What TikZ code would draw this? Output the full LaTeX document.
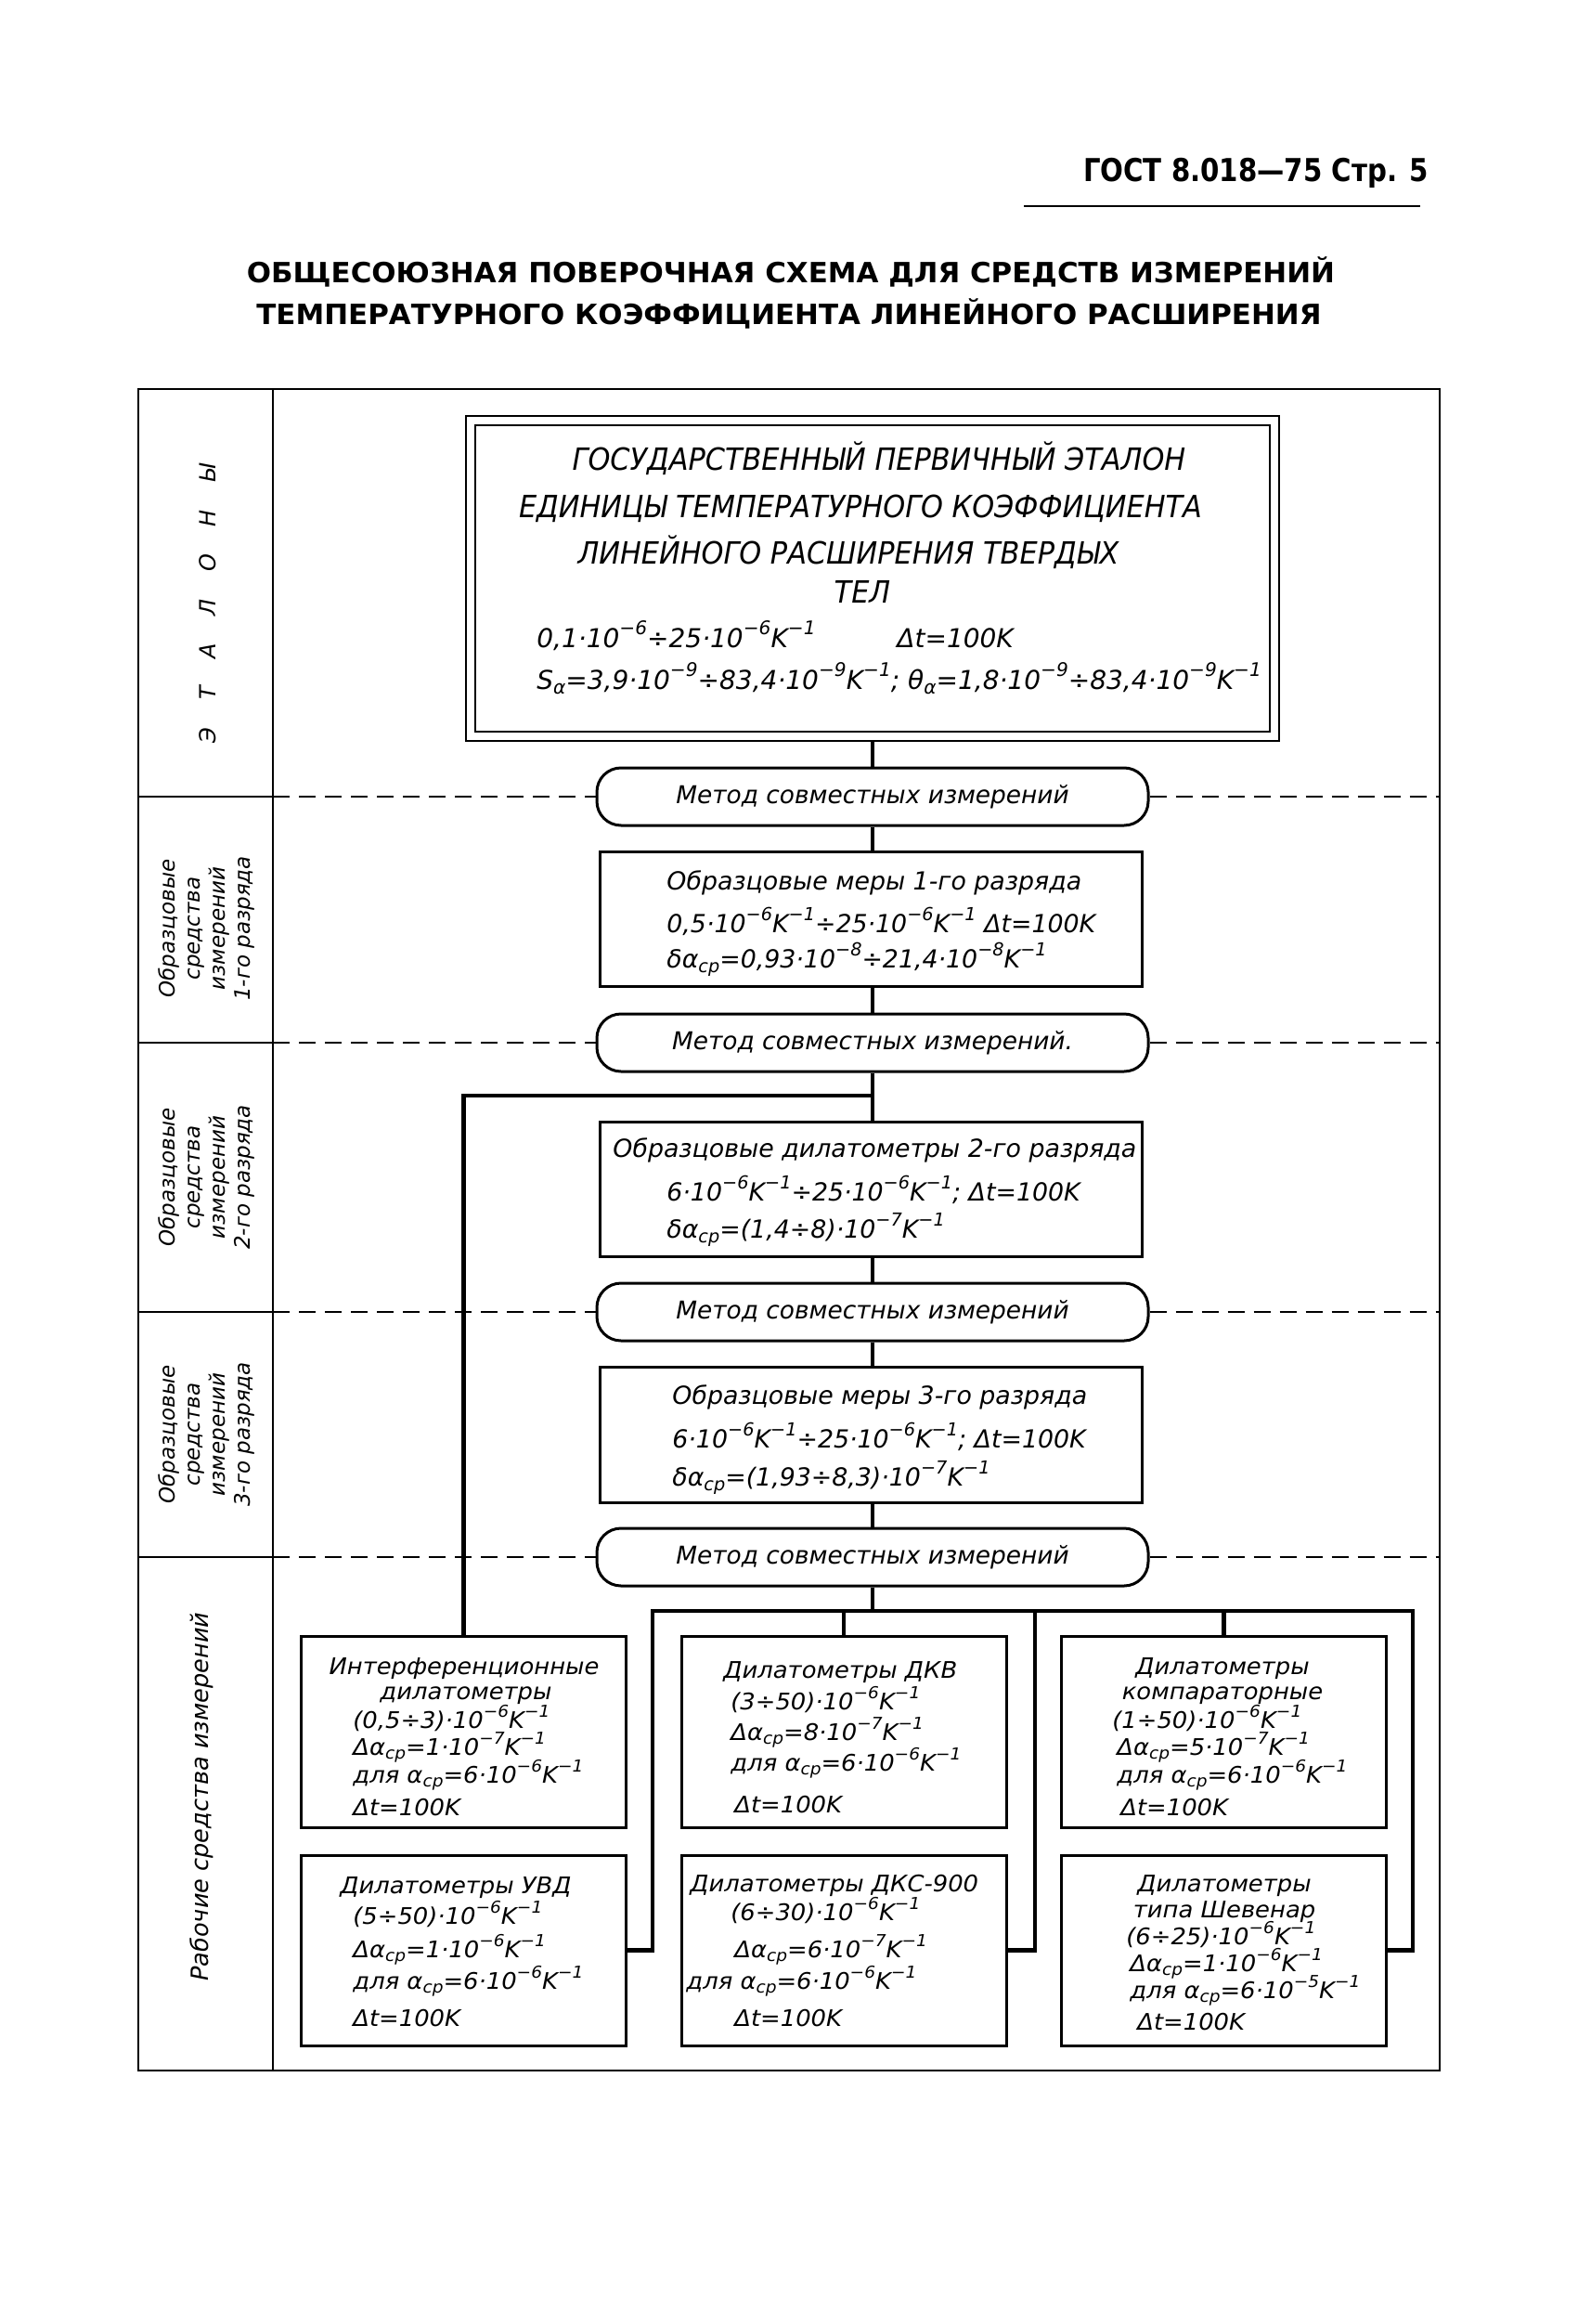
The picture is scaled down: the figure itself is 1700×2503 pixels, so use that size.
\documentclass[tikz,border=0pt]{standalone}
\usepackage{fontspec}
\usepackage{graphicx}
\newfontfamily\gost{DejaVu Sans}
\newfontfamily\gostw[FakeStretch=1.05]{DejaVu Sans}
\newfontfamily\gostcaps[FakeStretch=0.92]{DejaVu Sans}
\newfontfamily\hdrfont[FakeStretch=0.86]{DejaVu Sans}
\newfontfamily\ttlfont[FakeStretch=1.03]{DejaVu Sans}
\newcommand\sps[1]{\raisebox{0.47em}{\scalebox{0.72}{#1}}}
\newcommand\sbs[1]{\raisebox{-0.2em}{\scalebox{0.72}{#1}}}
\newcommand\mn{−}
\begin{document}
\begin{tikzpicture}[x=0.5pt,y=-0.5pt,
  conn/.style={line width=2.1pt},
  framel/.style={line width=1.4pt},
  dashln/.style={line width=0.9pt, dash pattern=on 9pt off 5pt},
  boxS/.style={draw, line width=1.5pt, inner sep=0pt},
  meth/.style={draw, line width=1.5pt, rounded corners=13pt, minimum width=297pt, minimum height=31pt, inner sep=0pt, font={\gost\itshape\fontsize{13.2pt}{15pt}\selectfont}},
  txt/.style={inner sep=0pt, font={\gost\itshape\fontsize{13.4pt}{15pt}\selectfont}},
  stxt/.style={inner sep=0pt, font={\gostw\itshape\fontsize{12.3pt}{14pt}\selectfont}},
  capt/.style={inner sep=0pt, font={\gostcaps\itshape\fontsize{16.5pt}{19pt}\selectfont}},
  numt/.style={inner sep=0pt, font={\gost\itshape\fontsize{14pt}{17pt}\selectfont}},
  lbl/.style={inner sep=0pt, rotate=90, align=center, font={\gost\itshape\fontsize{11.5pt}{13.5pt}\selectfont}},
  bbox/.style={boxS, minimum width=175pt}
]
\fill[white] (0,0) rectangle (1700,2503);
\useasboundingbox (0,0) rectangle (1700,2503);

% header
\node[inner sep=0pt, font={\hdrfont\bfseries\fontsize{17pt}{20pt}\selectfont}] (hdr) at (1353,186) {ГОСТ 8.018—75 Стр. 5};
\coordinate (ul1) at (1103,222);
\coordinate (ul2) at (1530,222);
\draw[line width=1.4pt] (ul1) -- (ul2);

% title
\node[inner sep=0pt, font={\ttlfont\bfseries\fontsize{15pt}{18pt}\selectfont}] (t1) at (852,293) {ОБЩЕСОЮЗНАЯ ПОВЕРОЧНАЯ СХЕМА ДЛЯ СРЕДСТВ ИЗМЕРЕНИЙ};
\node[inner sep=0pt, font={\ttlfont\bfseries\fontsize{15pt}{18pt}\selectfont}] (t2) at (850,338) {ТЕМПЕРАТУРНОГО КОЭФФИЦИЕНТА ЛИНЕЙНОГО РАСШИРЕНИЯ};

% frame
\coordinate (fTL) at (149,419);
\coordinate (fBR) at (1551,2230);
\coordinate (dvT) at (294,419);
\coordinate (dvB) at (294,2230);
\draw[framel] (fTL) rectangle (fBR);
\draw[framel] (dvT) -- (dvB);

% primary standard
\node[draw, double, double distance=3.75pt, line width=1.25pt, minimum width=433pt, minimum height=170pt, inner sep=0pt, outer sep=3pt] (etalon) at (940,623) {};
\node[capt, anchor=base] (e1) at (947,507) {ГОСУДАРСТВЕННЫЙ ПЕРВИЧНЫЙ ЭТАЛОН};
\node[capt, anchor=base] (e2) at (927,557) {ЕДИНИЦЫ ТЕМПЕРАТУРНОГО КОЭФФИЦИЕНТА};
\node[capt, anchor=base] (e3) at (914,607) {ЛИНЕЙНОГО РАСШИРЕНИЯ ТВЕРДЫХ};
\node[capt, anchor=base] (e4) at (929,649) {ТЕЛ};
\node[numt, anchor=base west] (e5) at (578,697) {0,1·10\sps{\mn6}÷25·10\sps{\mn6}K\sps{\mn1}};
\node[numt, anchor=base west] (e5b) at (966,697) {Δt=100K};
\node[numt, anchor=base west] (e6) at (578,742) {S\sbs{α}=3,9·10\sps{\mn9}÷83,4·10\sps{\mn9}K\sps{\mn1}; θ\sbs{α}=1,8·10\sps{\mn9}÷83,4·10\sps{\mn9}K\sps{\mn1}};

% chain
\node[meth] (m1) at (940,858) {Метод совместных измерений};
\node[boxS, minimum width=292pt, minimum height=72.5pt] (b1) at (938,989.5) {};
\node[meth] (m2) at (940,1123) {Метод совместных измерений.};
\node[boxS, minimum width=292pt, minimum height=72.5pt] (b2) at (938,1280.5) {};
\node[meth] (m3) at (940,1413) {Метод совместных измерений};
\node[boxS, minimum width=292pt, minimum height=73pt] (b3) at (938,1545) {};
\node[meth] (m4) at (940,1677) {Метод совместных измерений};

\node[txt, anchor=base west] (b1a) at (718,958) {Образцовые меры 1-го разряда};
\node[txt, anchor=base west] (b1b) at (718,1004) {0,5·10\sps{\mn6}K\sps{\mn1}÷25·10\sps{\mn6}K\sps{\mn1} Δt=100K};
\node[txt, anchor=base west] (b1c) at (718,1042) {δα\sbs{ср}=0,93·10\sps{\mn8}÷21,4·10\sps{\mn8}K\sps{\mn1}};

\node[txt, anchor=base west] (b2a) at (660,1246) {Образцовые дилатометры 2-го разряда};
\node[txt, anchor=base west] (b2b) at (718,1293) {6·10\sps{\mn6}K\sps{\mn1}÷25·10\sps{\mn6}K\sps{\mn1}; Δt=100K};
\node[txt, anchor=base west] (b2c) at (718,1333) {δα\sbs{ср}=(1,4÷8)·10\sps{\mn7}K\sps{\mn1}};

\node[txt, anchor=base west] (b3a) at (724,1512) {Образцовые меры 3-го разряда};
\node[txt, anchor=base west] (b3b) at (724,1559) {6·10\sps{\mn6}K\sps{\mn1}÷25·10\sps{\mn6}K\sps{\mn1}; Δt=100K};
\node[txt, anchor=base west] (b3c) at (724,1600) {δα\sbs{ср}=(1,93÷8,3)·10\sps{\mn7}K\sps{\mn1}};

% working instruments
\node[bbox, minimum height=103pt] (interf) at (499.5,1865) {};
\node[bbox, minimum height=103pt] (dkv) at (909,1865) {};
\node[bbox, minimum height=103pt] (komp) at (1318.5,1865) {};
\node[bbox, minimum height=102.5pt] (uvd) at (499.5,2100.5) {};
\node[bbox, minimum height=102.5pt] (dks) at (909,2100.5) {};
\node[bbox, minimum height=102.5pt] (shev) at (1318.5,2100.5) {};

\node[stxt, anchor=base] (i1) at (500,1803) {Интерференционные};
\node[stxt, anchor=base] (i2) at (502,1830) {дилатометры};
\node[stxt, anchor=base west] (i3) at (380,1861) {(0,5÷3)·10\sps{\mn6}K\sps{\mn1}};
\node[stxt, anchor=base west] (i4) at (380,1890) {Δα\sbs{ср}=1·10\sps{\mn7}K\sps{\mn1}};
\node[stxt, anchor=base west] (i5) at (380,1920) {для α\sbs{ср}=6·10\sps{\mn6}K\sps{\mn1}};
\node[stxt, anchor=base west] (i6) at (380,1955) {Δt=100K};

\node[stxt, anchor=base west] (k1) at (779,1807) {Дилатометры ДКВ};
\node[stxt, anchor=base west] (k2) at (787,1841) {(3÷50)·10\sps{\mn6}K\sps{\mn1}};
\node[stxt, anchor=base west] (k3) at (787,1874) {Δα\sbs{ср}=8·10\sps{\mn7}K\sps{\mn1}};
\node[stxt, anchor=base west] (k4) at (787,1907) {для α\sbs{ср}=6·10\sps{\mn6}K\sps{\mn1}};
\node[stxt, anchor=base west] (k5) at (791,1952) {Δt=100K};

\node[stxt, anchor=base] (c1) at (1317,1803) {Дилатометры};
\node[stxt, anchor=base] (c2) at (1317,1830) {компараторные};
\node[stxt, anchor=base west] (c3) at (1198,1861) {(1÷50)·10\sps{\mn6}K\sps{\mn1}};
\node[stxt, anchor=base west] (c4) at (1203,1890) {Δα\sbs{ср}=5·10\sps{\mn7}K\sps{\mn1}};
\node[stxt, anchor=base west] (c5) at (1203,1920) {для α\sbs{ср}=6·10\sps{\mn6}K\sps{\mn1}};
\node[stxt, anchor=base west] (c6) at (1207,1955) {Δt=100K};

\node[stxt, anchor=base west] (u1) at (366,2039) {Дилатометры УВД};
\node[stxt, anchor=base west] (u2) at (380,2072) {(5÷50)·10\sps{\mn6}K\sps{\mn1}};
\node[stxt, anchor=base west] (u3) at (380,2108) {Δα\sbs{ср}=1·10\sps{\mn6}K\sps{\mn1}};
\node[stxt, anchor=base west] (u4) at (380,2142) {для α\sbs{ср}=6·10\sps{\mn6}K\sps{\mn1}};
\node[stxt, anchor=base west] (u5) at (380,2182) {Δt=100K};

\node[stxt, anchor=base west] (d1) at (743,2037) {Дилатометры ДКС-900};
\node[stxt, anchor=base west] (d2) at (787,2068) {(6÷30)·10\sps{\mn6}K\sps{\mn1}};
\node[stxt, anchor=base west] (d3) at (791,2108) {Δα\sbs{ср}=6·10\sps{\mn7}K\sps{\mn1}};
\node[stxt, anchor=base west] (d4) at (739,2142) {для α\sbs{ср}=6·10\sps{\mn6}K\sps{\mn1}};
\node[stxt, anchor=base west] (d5) at (791,2182) {Δt=100K};

\node[stxt, anchor=base] (s1) at (1319,2037) {Дилатометры};
\node[stxt, anchor=base] (s2) at (1319,2065) {типа Шевенар};
\node[stxt, anchor=base west] (s3) at (1213,2094) {(6÷25)·10\sps{\mn6}K\sps{\mn1}};
\node[stxt, anchor=base west] (s4) at (1217,2123) {Δα\sbs{ср}=1·10\sps{\mn6}K\sps{\mn1}};
\node[stxt, anchor=base west] (s5) at (1217,2152) {для α\sbs{ср}=6·10\sps{\mn5}K\sps{\mn1}};
\node[stxt, anchor=base west] (s6) at (1225,2186) {Δt=100K};

% connectors
\draw[conn] (etalon.south) -- (m1.north);
\draw[conn] (m1.south) -- (b1.north -| m1.south);
\draw[conn] (b1.south -| m2.north) -- (m2.north);
\draw[conn] (m2.south) -- (b2.north -| m2.south);
\draw[conn] (b2.south -| m3.north) -- (m3.north);
\draw[conn] (m3.south) -- (b3.north -| m3.south);
\draw[conn] (b3.south -| m4.north) -- (m4.north);
\coordinate (br) at (940,1180);
\draw[conn] (br) -| (interf.north);
\coordinate (bus) at (940,1735);
\coordinate (busL) at (703,1735);
\coordinate (busM) at (1115,1735);
\coordinate (busR) at (1522,1735);
\draw[conn] (m4.south) -- (bus);
\draw[conn] (uvd.east) -| (busL) -- (busR) |- (shev.east);
\draw[conn] (busM) |- (dks.east);
\draw[conn] (dkv.north) -- (dkv.north |- bus);
\draw[conn] (komp.north) -- (komp.north |- bus);

% section boundaries
\foreach \m in {m1,m2,m3,m4}{
  \draw[framel] (\m.west -| fTL) -- (\m.west -| dvT);
  \draw[dashln] (\m.west -| dvT) -- (\m.west);
  \draw[dashln] (\m.east) -- (\m.east -| fBR);
}

% left labels
\node[lbl, font={\gost\itshape\fontsize{12pt}{14pt}\selectfont}] (l0) at (224,650) {Э \hspace{11pt}Т \hspace{11pt}А \hspace{11pt}Л \hspace{11pt}О \hspace{11pt}Н \hspace{11pt}Ы};
\node[lbl] (l1) at (222,1000) {Образцовые\\средства\\измерений\\1-го разряда};
\node[lbl] (l2) at (222,1268) {Образцовые\\средства\\измерений\\2-го разряда};
\node[lbl] (l3) at (222,1545) {Образцовые\\средства\\измерений\\3-го разряда};
\node[lbl, font={\gost\itshape\fontsize{12.8pt}{15pt}\selectfont}] (l4) at (217,1935) {Рабочие средства измерений};
\end{tikzpicture}
\end{document}
